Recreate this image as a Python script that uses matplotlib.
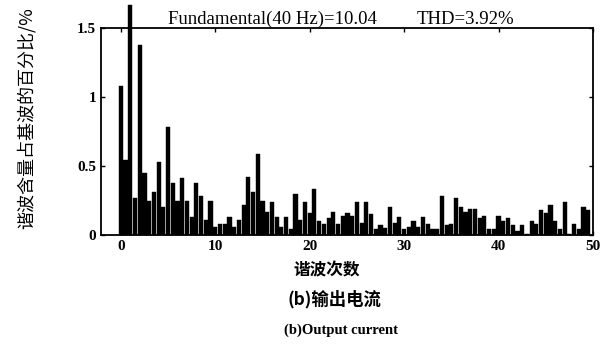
import matplotlib
matplotlib.use("Agg")
import matplotlib.pyplot as plt
import numpy as np

harmonic_step = 0.5
values = [1.08, 0.54, 1.67, 0.27, 1.38, 0.45, 0.25, 0.31, 0.53, 0.20,
          0.78, 0.38, 0.25, 0.41, 0.25, 0.13, 0.38, 0.28, 0.11, 0.25,
          0.06, 0.08, 0.08, 0.13, 0.06, 0.11, 0.22, 0.42, 0.31, 0.59,
          0.25, 0.17, 0.24, 0.13, 0.06, 0.13, 0.04, 0.30, 0.11, 0.24,
          0.16, 0.33, 0.10, 0.08, 0.12, 0.17, 0.08, 0.14, 0.16, 0.14,
          0.24, 0.09, 0.24, 0.15, 0.04, 0.07, 0.05, 0.20, 0.09, 0.13,
          0.04, 0.06, 0.10, 0.06, 0.13, 0.08, 0.04, 0.04, 0.28, 0.07,
          0.08, 0.27, 0.20, 0.17, 0.19, 0.19, 0.12, 0.14, 0.04, 0.04,
          0.14, 0.10, 0.12, 0.07, 0.03, 0.07, 0.01, 0.10, 0.08, 0.18,
          0.16, 0.22, 0.10, 0.04, 0.24, 0.01, 0.08, 0.04, 0.20, 0.18]
harmonics = np.arange(len(values)) * harmonic_step

xticks = [0, 10, 20, 30, 40, 50]
yticks = [0, 0.5, 1, 1.5]
ytick_labels = ["0", "0.5", "1", "1.5"]
title_fund = "Fundamental(40 Hz)=10.04"
title_thd = "THD=3.92%"
ylabel_text = "谐波含量占基波的百分比/%"
xlabel_text = "谐波次数"
caption_cn = "(b)输出电流"
caption_en = "(b)Output current"

serif = ["Liberation Serif", "DejaVu Serif"]
cjk = ["Noto Sans CJK SC", "DejaVu Sans"]

fig = plt.figure(figsize=(6.12, 3.57), dpi=100)
ax = fig.add_axes([101/612, 1-235/357, (593-101)/612, (235-28)/357])

bars = ax.bar(harmonics, values, width=0.44, color="black", edgecolor="black", linewidth=0.3)
for b in bars:
    b.set_clip_on(False)

ax.set_xlim(-2.1, 50)
ax.set_ylim(0, 1.5)
ax.set_xticks(xticks)
ax.set_yticks(yticks)
ax.set_yticklabels(ytick_labels)
ax.tick_params(direction="in", top=True, right=True, length=3, width=1.0, labelsize=11)
for lab in ax.get_xticklabels() + ax.get_yticklabels():
    lab.set_fontfamily(serif)
    lab.set_fontweight("bold")
for s in ax.spines.values():
    s.set_linewidth(1.3)

fig.text(272/612, 1-19/357, title_fund, ha="center", va="center", fontsize=13.5, family=serif)
fig.text(465/612, 1-19/357, title_thd, ha="center", va="center", fontsize=13.5, family=serif)
fig.text(26/612, 1-118/357, ylabel_text, rotation=90, ha="center", va="center", fontsize=13, family=cjk)
fig.text(327/612, 1-270/357, xlabel_text, ha="center", va="center", fontsize=12, family=cjk, fontweight="bold")
fig.text(334/612, 1-299/357, caption_cn, ha="center", va="center", fontsize=12.5, family=cjk, fontweight="bold")
fig.text(341/612, 1-330/357, caption_en, ha="center", va="center", fontsize=10.5, family=serif, fontweight="bold")

fig.savefig("out.png", dpi=100)
